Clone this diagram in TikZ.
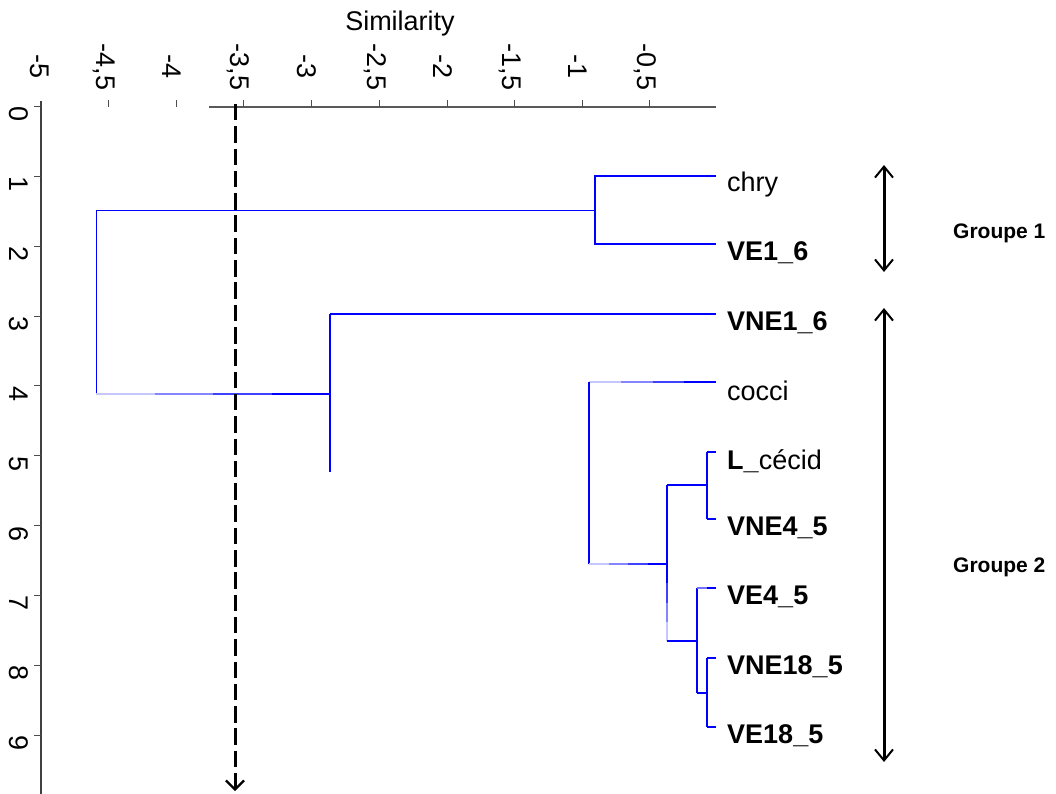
\documentclass[tikz,border=0pt]{standalone}
\usepackage{fontspec}
\setmainfont{Liberation Sans}
\usetikzlibrary{arrows.meta,calc}

\tikzset{
  big/.style={font=\fontsize{27}{32}\selectfont},
  leaflabel/.style={big,anchor=west,inner sep=0pt},
  ticklabel/.style={big,rotate=-90,inner sep=0pt},
  grplabel/.style={font=\fontsize{21}{25}\selectfont\bfseries,anchor=west,inner sep=0pt},
  axisline/.style={line width=1.1pt,black!75},
  tickmark/.style={line width=1pt,black!70},
  dend/.style={line width=1.8pt,blue},
  dendthin/.style={line width=1pt,blue},
  cutline/.style={line width=3pt,dash pattern=on 16.5pt off 5.8pt,
    -{Straight Barb[length=9pt,width=18pt,line width=2.2pt]}},
  grouparrow/.style={line width=3pt,
    {Straight Barb[length=11pt,width=18pt,line width=2pt]}-{Straight Barb[length=11pt,width=18pt,line width=2pt]}},
}

% branch drawn in four steps, from pale (first point) to full blue (second point)
\newcommand\fadebranch[2]{%
  \draw[dend,blue!22] (#1) -- ($(#1)!0.25!(#2)$);
  \draw[dend,blue!48] ($(#1)!0.25!(#2)$) -- ($(#1)!0.5!(#2)$);
  \draw[dend,blue!75] ($(#1)!0.5!(#2)$) -- ($(#1)!0.75!(#2)$);
  \draw[dend] ($(#1)!0.75!(#2)$) -- (#2);}

\begin{document}
\begin{tikzpicture}[x=1pt,y=-1pt]
\useasboundingbox (0,0) rectangle (1056,794);

% ---- title of the similarity axis
\node[big] (title) at (400,24) {Similarity};

% ---- top axis
\coordinate (ax0) at (209,107);
\coordinate (ax1) at (716,107);
\draw[axisline,black!65] (ax0) -- (ax1);
\foreach \x in {108.6,176,243.5,311,379,447,514,582,649.5}
  \draw[tickmark] (\x,100) -- (\x,107);
\foreach \x/\t [count=\i] in {40/-5,104/{-4,5},172/-4,238/{-3,5},307/-3,375/{-2,5},443/-2,510/{-1,5},578/-1,645/{-0,5}}
  \node[ticklabel] (top\i) at (\x,67) {\t};

% ---- left axis
\coordinate (ay0) at (41,101);
\coordinate (ay1) at (41,794);
\draw[axisline] (ay0) -- (ay1);
\foreach \k in {0,...,9}{
  \pgfmathsetmacro\yy{106.5+69.85*\k}
  \draw[tickmark] (34,\yy) -- (41,\yy);
  \node[ticklabel] (left\k) at (19,\yy+8) {\k};
}

% ---- leaf ends and labels
\foreach \n/\y/\t in {1/176/chry,2/244/\textbf{VE1\_6},3/314/\textbf{VNE1\_6},
  4/382/cocci,5/452/\textbf{L\_}cécid,6/519/\textbf{VNE4\_5},7/588/\textbf{VE4\_5},
  8/658/\textbf{VNE18\_5},9/727/\textbf{VE18\_5}}{
  \coordinate (t\n) at (716,\y);
  \node[leaflabel] (leaf\n) at (727,\y+9) {\t};
}

% ---- dendrogram: chry / VE1_6
\coordinate (a1) at (595,176);
\coordinate (a2) at (595,244);
\coordinate (am) at (595,211);
\draw[dend] (t1) -- (a1) -- (a2) -- (t2);
\coordinate (r0) at (96,211);
\coordinate (r1) at (96,394);
\draw[dendthin] (am) -- (r0) -- (r1);

% ---- VNE1_6 branch
\coordinate (b1) at (330,314);
\coordinate (b2) at (330,472);
\coordinate (bm) at (330,394);
\draw[dend] (t3) -- (b1);
\draw[line width=1.3pt,blue] (b1) -- (b2);
\fadebranch{r1}{bm}

% ---- cocci group
\coordinate (c1) at (589,382);
\coordinate (c2) at (589,564);
\coordinate (cm) at (667,564);
\fadebranch{c1}{t4}
\draw[line width=1.4pt,blue] (c1) -- (c2);
\fadebranch{c2}{cm}

% ---- L_cécid / VNE4_5
\coordinate (d1) at (667,485);
\coordinate (d2) at (667,641);
\coordinate (e1) at (707,485);
\coordinate (e2) at (707,452);
\coordinate (e3) at (707,519);
\draw[line width=1.4pt,blue] (cm) -- (d1);
\fadebranch{d2}{cm}
\draw[dend] (d1) -- (e1);
\draw[line width=1.4pt,blue] (e2) -- (e3);
\draw[dend] (e2) -- (t5);
\draw[dend] (e3) -- (t6);

% ---- VE4_5 / VNE18_5 / VE18_5
\coordinate (f1) at (697,641);
\coordinate (f2) at (697,588);
\coordinate (f3) at (697,693);
\coordinate (g1) at (707,693);
\coordinate (g2) at (707,658);
\coordinate (g3) at (707,727);
\draw[dend] (d2) -- (f1);
\draw[line width=1.4pt,blue] (f2) -- (f3);
\draw[dend,blue!55] (f2) -- (707,588);
\draw[dend] (707,588) -- (t7);
\draw[dend] (f3) -- (g1);
\draw[line width=1.4pt,blue] (g2) -- (g3);
\draw[dend] (g2) -- (t8);
\draw[dend] (g3) -- (t9);

% ---- cut level
\coordinate (cut0) at (235,104);
\coordinate (cut1) at (235,791);
\draw[cutline] (cut0) -- (cut1);

% ---- groups
\coordinate (gA0) at (884,165);
\coordinate (gA1) at (884,272);
\coordinate (gB0) at (884,308);
\coordinate (gB1) at (884,762);
\draw[grouparrow] (gA0) -- (gA1);
\draw[grouparrow] (gB0) -- (gB1);
\node[grplabel] (grp1) at (953,233) {Groupe 1};
\node[grplabel] (grp2) at (953,567) {Groupe 2};
\end{tikzpicture}
\end{document}
